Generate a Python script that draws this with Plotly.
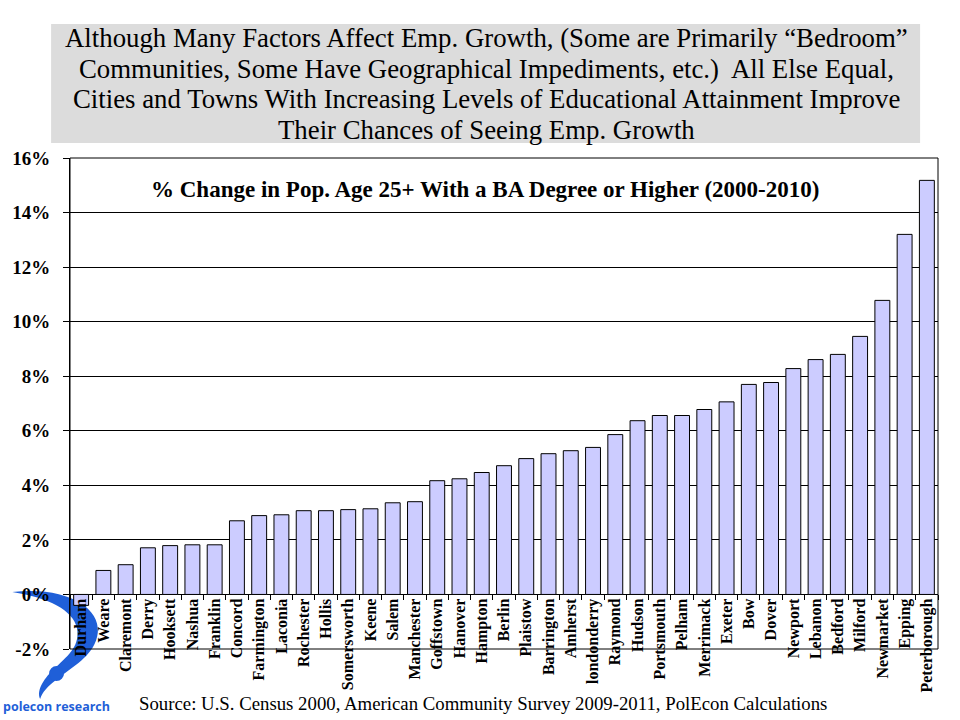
import plotly.graph_objects as go

towns = ["Durham", "Weare", "Claremont", "Derry", "Hooksett", "Nashua", "Franklin",
         "Concord", "Farmington", "Laconia", "Rochester", "Hollis", "Somersworth",
         "Keene", "Salem", "Manchester", "Goffstown", "Hanover", "Hampton", "Berlin",
         "Plaistow", "Barrington", "Amherst", "londonderry", "Raymond", "Hudson",
         "Portsmouth", "Pelham", "Merrimack", "Exeter", "Bow", "Dover", "Newport",
         "Lebanon", "Bedford", "Milford", "Newmarket", "Epping", "Peterborough"]
pct_change = [-0.40, 0.88, 1.09, 1.71, 1.79, 1.82, 1.82,
              2.70, 2.89, 2.92, 3.07, 3.07, 3.11,
              3.14, 3.36, 3.40, 4.17, 4.24, 4.47, 4.72,
              4.98, 5.16, 5.27, 5.39, 5.86, 6.37,
              6.56, 6.56, 6.78, 7.06, 7.70, 7.77, 8.28,
              8.61, 8.80, 9.46, 10.78, 13.20, 15.18]
y_ticks = [-2, 0, 2, 4, 6, 8, 10, 12, 14, 16]
y_tick_labels = ["-2%", "0%", "2%", "4%", "6%", "8%", "10%", "12%", "14%", "16%"]

headline_lines = [
    "Although Many Factors Affect Emp. Growth, (Some are Primarily \u201cBedroom\u201d",
    "Communities, Some Have Geographical Impediments, etc.)  All Else Equal,",
    "Cities and Towns With Increasing Levels of Educational Attainment Improve",
    "Their Chances of Seeing Emp. Growth",
]
chart_title = "% Change in Pop. Age 25+ With a BA Degree or Higher (2000-2010)"
source = "Source: U.S. Census 2000, American Community Survey 2009-2011, PolEcon Calculations"
logo_text = "polecon research"

W, H = 960, 720
L, R, T, B = 66, 938, 158, 649
YMIN, YMAX = -2, 16

def px(x):
    return (x - L) / (R - L)

def py(y):
    return (B - y) / (B - T)

serif = "Liberation Serif"
logo_blue = "#1f5fd8"

fig = go.Figure(go.Bar(
    x=towns, y=pct_change,
    marker=dict(color="#ccccff", line=dict(color="black", width=1)),
    hoverinfo="x+y",
))

zero_pos = (0 - YMIN) / (YMAX - YMIN)

fig.update_layout(
    width=W, height=H,
    margin=dict(l=L, r=W - R, t=T, b=H - B, pad=0),
    paper_bgcolor="white", plot_bgcolor="white",
    bargap=0.33,
    showlegend=False,
    xaxis=dict(
        anchor="free", position=zero_pos,
        tickangle=-90, ticks="outside", tickson="boundaries", ticklen=5,
        tickcolor="black", tickwidth=1,
        showline=False, showgrid=False,
        tickfont=dict(family=serif, size=16, color="black", weight="bold"),
    ),
    yaxis=dict(
        range=[YMIN, YMAX], tickvals=y_ticks, ticktext=y_tick_labels,
        ticks="outside", ticklen=6, tickcolor="black", ticklabelstandoff=9,
        showgrid=True, gridcolor="black", gridwidth=1,
        zeroline=True, zerolinecolor="black", zerolinewidth=1,
        showline=True, linecolor="black",
        tickfont=dict(family=serif, size=19, color="black", weight="bold"),
    ),
)

shapes = []
shapes.append(dict(type="rect", xref="paper", yref="paper", x0=0, x1=1, y0=0, y1=1,
                   line=dict(color="black", width=1), layer="above"))
shapes.append(dict(type="rect", xref="paper", yref="paper",
                   x0=px(47), x1=px(920), y0=py(143), y1=py(24),
                   fillcolor="#dcdcdc", line=dict(width=0), layer="below"))

def path_from(pts):
    s = ""
    for cmd, coords in pts:
        s += cmd + " " + " ".join(f"{px(a):.4f},{py(b):.4f}" for a, b in coords) + " "
    return s + "Z"

swoosh = path_from([
    ("M", [(8, 592)]),
    ("C", [(60, 586), (96, 606), (94, 632)]),
    ("C", [(92, 656), (66, 668), (52, 680)]),
    ("C", [(44, 686), (38, 692), (36, 699)]),
    ("C", [(32, 690), (40, 678), (52, 667)]),
    ("C", [(66, 654), (76, 645), (73, 628)]),
    ("C", [(69, 610), (45, 598), (8, 592)]),
])
shapes.append(dict(type="path", xref="paper", yref="paper", path=swoosh,
                   fillcolor=logo_blue, line=dict(width=0), layer="below"))
shapes.append(dict(type="circle", xref="paper", yref="paper",
                   x0=px(45), x1=px(60), y0=py(681), y1=py(666),
                   fillcolor=logo_blue, line=dict(width=0), layer="below"))
fig.update_layout(shapes=shapes)

annotations = []
for line, yc in zip(headline_lines, [38, 69, 99, 130]):
    annotations.append(dict(text=line, xref="paper", yref="paper", x=px(484), y=py(yc),
                            xanchor="center", yanchor="middle", showarrow=False,
                            font=dict(family=serif, size=26.8, color="black")))
annotations += [
    dict(text="<b>" + chart_title + "</b>", xref="paper", yref="paper",
         x=px(483), y=py(189), xanchor="center", yanchor="middle", showarrow=False,
         font=dict(family=serif, size=23, color="black")),
    dict(text=source, xref="paper", yref="paper", x=px(481), y=py(703),
         xanchor="center", yanchor="middle", showarrow=False,
         font=dict(family=serif, size=18.8, color="black")),
    dict(text="<b>" + logo_text + "</b>", xref="paper", yref="paper", x=px(-3), y=py(706),
         xanchor="left", yanchor="middle", showarrow=False,
         font=dict(family="Open Sans", size=12.5, color=logo_blue)),
]
fig.update_layout(annotations=annotations)

fig.write_html("out.html", config={"displayModeBar": False},
               post_script="document.body.style.margin='0';document.body.style.padding='0';")
